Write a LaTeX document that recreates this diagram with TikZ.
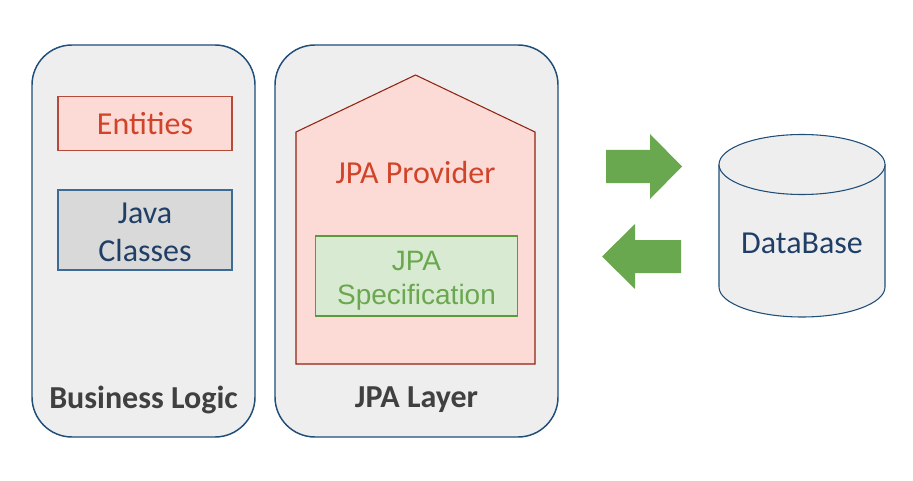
\documentclass[tikz,border=0pt]{standalone}
\usepackage{fontspec}
\setmainfont{Carlito}
\newfontfamily\arialfont{Liberation Sans}
\usetikzlibrary{positioning}
\definecolor{panelfill}{HTML}{EEEEEE}
\definecolor{panelline}{HTML}{1F4E79}
\definecolor{entfill}{HTML}{FCDBD6}
\definecolor{entline}{HTML}{B5493A}
\definecolor{enttext}{HTML}{D0442A}
\definecolor{javafill}{HTML}{D9D9D9}
\definecolor{javaline}{HTML}{3E6A96}
\definecolor{bluetext}{HTML}{1F3F66}
\definecolor{provline}{HTML}{8E2412}
\definecolor{specfill}{HTML}{D9EAD3}
\definecolor{specline}{HTML}{5B9B3D}
\definecolor{spectext}{HTML}{6AA84F}
\definecolor{arrowgreen}{HTML}{6AA84F}
\definecolor{labelgray}{HTML}{404040}

\begin{document}
\begin{tikzpicture}[x=0.75pt,y=-0.75pt,
  panel/.style={draw=panelline,fill=panelfill,line width=1.1pt,rounded corners=30pt},
  bigtext/.style={font=\fontsize{24}{28.5}\selectfont},
  innerbox/.style={draw,line width=0.8pt,minimum width=130.5pt,align=center,bigtext,inner sep=0pt},
  panellabel/.style={font=\fontsize{24}{28.5}\selectfont\bfseries,text=labelgray},
  blockarrow/.style={fill=arrowgreen}]
\useasboundingbox (0,0) rectangle (913,481);
% the two panels
\draw[panel] (32,45) rectangle (255,437);
\draw[panel] (275,45) rectangle (558,437);
\node[panellabel] (bl) at (143.5,400) {Business Logic};
\node[panellabel] (jl) at (416.5,400) {JPA Layer};
% business logic boxes
\node[innerbox,draw=entline,fill=entfill,text=enttext,minimum height=41pt] (ent) at (145,123.5) {Entities};
\node[innerbox,draw=javaline,fill=javafill,minimum height=60pt] (java) at (145,230) {};
\node[bigtext,text=bluetext,align=center] (javatxt) at ([yshift=-2pt]java.center) {Java\\Classes};
% provider house
\draw[draw=provline,fill=entfill,line width=0.8pt] (296,364) -- (296,132) -- (415.5,75) -- (535,132) -- (535,364) -- cycle;
\node[bigtext,text=enttext] (prov) at (415.5,172) {JPA Provider};
\node[draw=specline,fill=specfill,line width=0.8pt,minimum width=152pt,minimum height=60pt] (spec) at (416.5,276) {};
\node[align=center,text=spectext,font=\arialfont\fontsize{21}{25.5}\selectfont] (spectxt) at ([yshift=-3.5pt]spec.center) {JPA\\Specification};
% block arrows
\fill[blockarrow] (606,150) -- (650,150) -- (650,134) -- (682,166.5) -- (650,199) -- (650,183) -- (606,183) -- cycle;
\fill[blockarrow] (681,240) -- (635,240) -- (635,224) -- (602,256.5) -- (635,289) -- (635,273) -- (681,273) -- cycle;
% database
\draw[draw=panelline,fill=panelfill,line width=0.8pt] (719,164.5) -- (719,287) arc[start angle=180,end angle=0,x radius=83,y radius=30] -- (885,164.5);
\draw[draw=panelline,fill=panelfill,line width=0.8pt] (802,164.5) ellipse[x radius=83,y radius=30];
\node[bigtext,text=bluetext] (db) at (802,243) {DataBase};
\end{tikzpicture}
\end{document}
